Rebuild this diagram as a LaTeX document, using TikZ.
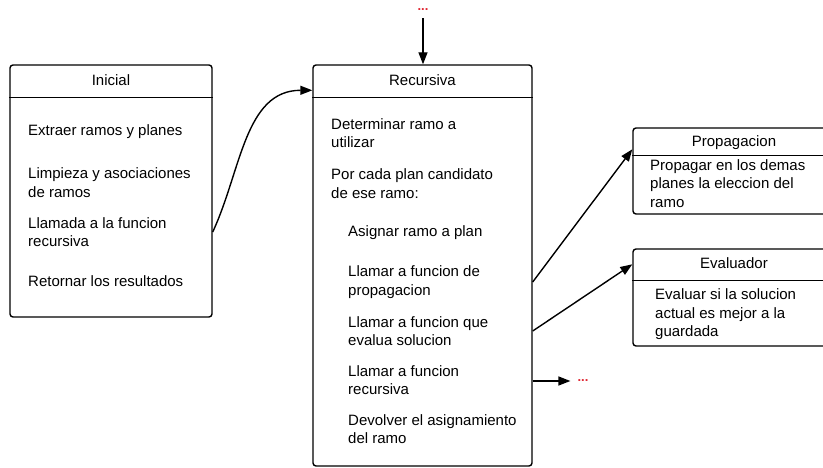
\documentclass[tikz,border=0pt]{standalone}
\usepackage{fontspec}
\setmainfont{Liberation Sans}
\usepackage{tikz}
\usetikzlibrary{positioning,calc,arrows.meta}
\definecolor{rojo}{RGB}{224,40,52}

\begin{document}
\begin{tikzpicture}[x=1pt,y=-1pt,
	caja/.style={draw,rectangle,rounded corners=3pt,line width=1.4pt},
	texto/.style={anchor=west,align=left,inner sep=0pt,font=\fontsize{15}{18.5}\selectfont},
	titulo/.style={inner sep=0pt,text height=10.5pt,text depth=3pt,font=\fontsize{15}{18}\selectfont},
	flecha/.style={-{Triangle[length=12pt,width=9pt]},line width=1.4pt},
	puntos/.style={text=rojo,inner sep=1pt,font=\bfseries\fontsize{13}{15}\selectfont}]
	\clip (0,0) rectangle (823,468);
	
	% Inicial
	\node[caja,minimum width=202pt,minimum height=252pt] (ini) at (111,191) {};
	\node[titulo] (iniT) at (111,82) {Inicial};
	\draw[line width=1.4pt] ($(ini.north west)+(0,33)$) -- ($(ini.north east)+(0,33)$);
	\node[texto] (ext) at (28,132) {Extraer ramos y planes};
	\node[texto] (lim) at (28,182.5) {Limpieza y asociaciones\\de ramos};
	\node[texto] (lla) at (28,232) {Llamada a la funcion\\recursiva};
	\node[texto] (ret) at (28,281) {Retornar los resultados};
	
	% Recursiva
	\node[caja,minimum width=219pt,minimum height=401pt] (rec) at (422.5,265.5) {};
	\node[titulo] (recT) at (422.5,82) {Recursiva};
	\draw[line width=1.4pt] ($(rec.north west)+(0,33)$) -- ($(rec.north east)+(0,33)$);
	\node[texto] (det) at (331,133) {Determinar ramo a\\utilizar};
	\node[texto] (por) at (331,183.5) {Por cada plan candidato\\de ese ramo:};
	\node[texto] (asi) at (348,233) {Asignar ramo a plan};
	\node[texto] (lprop) at (348,282) {Llamar a funcion de\\propagacion};
	\node[texto] (leva) at (348,331) {Llamar a funcion que\\evalua solucion};
	\node[texto] (lrec) at (348,380) {Llamar a funcion\\recursiva};
	\node[texto] (dev) at (348,429) {Devolver el asignamiento\\del ramo};
	
	% Propagacion
	\node[caja,minimum width=202pt,minimum height=86pt] (prop) at (734,171) {};
	\node[titulo] (propT) at (734,143) {Propagacion};
	\draw[line width=1.4pt] ($(prop.north west)+(0,28)$) -- ($(prop.north east)+(0,28)$);
	\node[texto] (propX) at (650,183.5) {Propagar en los demas\\planes la eleccion del\\ramo};
	
	% Evaluador
	\node[caja,minimum width=202pt,minimum height=97pt] (eva) at (734,297.5) {};
	\node[titulo] (evaT) at (734,265) {Evaluador};
	\draw[line width=1.4pt] ($(eva.north west)+(0,32)$) -- ($(eva.north east)+(0,32)$);
	\node[texto] (evaX) at (655,314.5) {Evaluar si la solucion\\actual es mejor a la\\guardada};
	
	% puntos suspensivos
	\node[puntos] (arr) at (423,10) {...};
	\node[puntos] (der) at (583,381) {...};
	
	% Flechas
	\draw[flecha,shorten <=6pt] (arr.south) -- (arr.south |- rec.north);
	\draw[flecha] (ini.east |- lla) to[out=65,in=180] ($(rec.north west)+(0,26)$);
	\draw[flecha] (rec.east |- lprop) -- ($(prop.north west)+(0,22)$);
	\draw[flecha] (rec.east |- leva) -- ($(eva.north west)+(0,16)$);
	\draw[flecha,shorten >=6pt] (rec.east |- der) -- (der.west);
\end{tikzpicture}
\end{document}
